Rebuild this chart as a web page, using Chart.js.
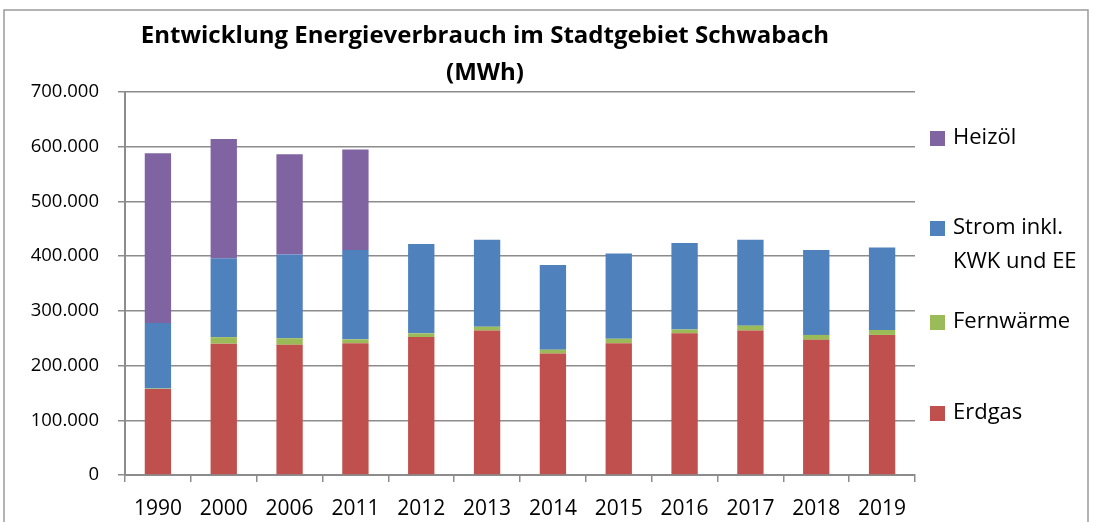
<!DOCTYPE html>
<html>
<head>
<meta charset="utf-8">
<script src="https://cdn.jsdelivr.net/npm/chart.js@4"></script>
<style>
  html, body { margin: 0; padding: 0; background: #fff; }
  #wrap { width: 1093px; height: 522px; }
</style>
</head>
<body>
<div id="wrap"><canvas id="chart" width="1093" height="522"></canvas></div>
<script>
// Daten (MWh)
const years = ['1990', '2000', '2006', '2011', '2012', '2013', '2014', '2015', '2016', '2017', '2018', '2019'];
const erdgas = [157000, 240000, 238000, 241000, 252000, 264000, 222000, 241000, 259000, 264000, 247000, 256000];
const fernwaerme = [1000, 12000, 12000, 7000, 7000, 7000, 7000, 8000, 7000, 9000, 9000, 9000];
const strom = [120000, 144000, 153000, 163000, 163000, 159000, 155000, 156000, 158000, 157000, 155000, 151000];
const heizoel = [310000, 218000, 183000, 184000, 0, 0, 0, 0, 0, 0, 0, 0];
const yTicks = [0, 100000, 200000, 300000, 400000, 500000, 600000, 700000];
const titleLines = ['Entwicklung Energieverbrauch im Stadtgebiet Schwabach', '(MWh)'];

const FONT = '"Open Sans", Lato, sans-serif';
const GRID = '#8c8c8c';

// Zahlen im deutschen Format
function formatDE(v) {
    return String(v).replace(/\B(?=(\d{3})+(?!\d))/g, '.');
}

// Rahmen + Titel
const framePlugin = {
    id: 'frame',
    beforeDraw(chart) {
        const ctx = chart.ctx;
        ctx.save();
        ctx.fillStyle = '#fff';
        ctx.fillRect(0, 0, chart.width, chart.height);
        ctx.strokeStyle = '#9a9a9a';
        ctx.lineWidth = 1.5;
        ctx.strokeRect(4, 10, 1084, 540);
        ctx.fillStyle = '#000';
        ctx.font = 'bold 24px ' + FONT;
        ctx.textAlign = 'center';
        ctx.textBaseline = 'middle';
        titleLines.forEach((t, i) => ctx.fillText(t, 485, 36 + i * 37));
        ctx.restore();
    }
};

// Legende rechts, umgekehrte Reihenfolge
const legendRows = [
    { ds: 3, y: 138, lines: ['Heizöl'] },
    { ds: 2, y: 228, lines: ['Strom inkl.', 'KWK und EE'] },
    { ds: 1, y: 322, lines: ['Fernwärme'] },
    { ds: 0, y: 413, lines: ['Erdgas'] }
];
const legendPlugin = {
    id: 'sideLegend',
    afterDraw(chart) {
        const ctx = chart.ctx;
        ctx.save();
        ctx.font = '22px ' + FONT;
        ctx.textBaseline = 'middle';
        ctx.textAlign = 'left';
        legendRows.forEach(row => {
            const ds = chart.data.datasets[row.ds];
            ctx.fillStyle = ds.backgroundColor;
            ctx.fillRect(930, row.y - 7, 15, 15);
            ctx.fillStyle = '#000';
            row.lines.forEach((t, i) => ctx.fillText(t, 953, row.y + i * 34));
        });
        ctx.restore();
    }
};

const ctx = document.getElementById('chart').getContext('2d');
new Chart(ctx, {
    type: 'bar',
    data: {
        labels: years,
        datasets: [
            { label: 'Erdgas', data: erdgas, backgroundColor: '#C0504D' },
            { label: 'Fernwärme', data: fernwaerme, backgroundColor: '#9BBB59' },
            { label: 'Strom inkl. KWK und EE', data: strom, backgroundColor: '#4F81BD' },
            { label: 'Heizöl', data: heizoel, backgroundColor: '#8064A2' }
        ]
    },
    options: {
        responsive: false,
        animation: false,
        devicePixelRatio: 1,
        layout: { padding: { left: 0, right: 178, top: 92, bottom: 0 } },
        datasets: { bar: { categoryPercentage: 1, barPercentage: 0.4 } },
        plugins: {
            legend: { display: false },
            tooltip: { enabled: false },
            title: { display: false }
        },
        scales: {
            x: {
                stacked: true,
                afterFit(scale) { scale.height = 47; },
                grid: { display: true, drawOnChartArea: false, color: GRID, lineWidth: 1.5, tickLength: 7, offset: true },
                border: { display: true, color: GRID, width: 2 },
                ticks: { color: '#000', font: { family: FONT, size: 21 }, padding: 14, maxRotation: 0 }
            },
            y: {
                stacked: true,
                min: 0,
                max: 700000,
                afterBuildTicks(scale) {
                    scale.ticks = yTicks.map(v => ({ value: v }));
                },
                afterFit(scale) { scale.width = 125; },
                grid: { color: GRID, lineWidth: 1.5, tickLength: 7 },
                border: { display: true, color: GRID, width: 2 },
                ticks: {
                    color: '#000',
                    font: { family: FONT, size: 18.5 },
                    padding: 19,
                    callback: v => formatDE(v)
                }
            }
        }
    },
    plugins: [framePlugin, legendPlugin]
});
</script>
</body>
</html>
